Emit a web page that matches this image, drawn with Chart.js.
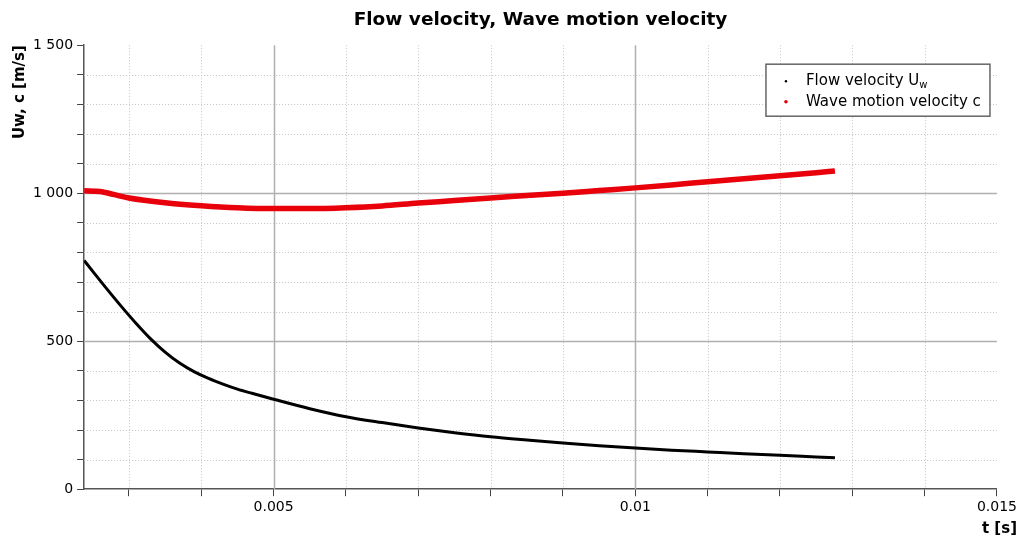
<!DOCTYPE html>
<html>
<head>
<meta charset="utf-8">
<script src="https://cdn.jsdelivr.net/npm/chart.js@4.4.1/dist/chart.umd.min.js"></script>
<style>
  html, body { margin: 0; padding: 0; background: #fff; }
</style>
</head>
<body>
<canvas id="chart" width="1020" height="539"></canvas>
<script>
// time [s] and values [m/s]
const flowTimes = [0.00238, 0.0025, 0.0027, 0.0029, 0.0031, 0.0033, 0.0035, 0.0037, 0.0039, 0.0041, 0.0043,
    0.0045, 0.0047, 0.005, 0.0055, 0.006, 0.0065, 0.007, 0.0075, 0.008, 0.0085, 0.009, 0.0095, 0.01,
    0.0105, 0.011, 0.0115, 0.012, 0.0125, 0.01276];
const flowValues = [773, 736, 675, 616, 560, 508, 463, 426, 397, 374, 355,
    338, 324, 304, 272, 245, 225, 207, 191, 177, 166, 156, 147, 139,
    132, 126, 120, 115, 109, 106];

const waveTimes = [0.00238, 0.0026, 0.0028, 0.003, 0.0035, 0.004, 0.0045, 0.005, 0.0055, 0.006, 0.0065, 0.007,
    0.0075, 0.008, 0.0085, 0.009, 0.0095, 0.01, 0.0105, 0.011, 0.0115, 0.012, 0.0125, 0.01276];
const waveValues = [1008, 1006, 995, 984, 968, 958, 951, 948, 948, 951, 957, 967,
    975, 984, 992, 1000, 1009, 1018, 1028, 1039, 1049, 1059, 1069, 1075];

const seriesNames = ['Flow velocity U', 'Wave motion velocity c'];
const seriesSubscripts = ['w', ''];
const seriesColors = ['#000000', '#e8000b'];

const xMin = 0.00238, xMax = 0.015, xMinor = 0.001, xMajor = 0.005;
const yMin = 0, yMax = 1500, yMinor = 100, yMajor = 500;
const xTitle = 't [s]';

const FONT = '"DejaVu Sans", Verdana, sans-serif';

function isMajor(v, step) {
    return Math.abs(v / step - Math.round(v / step)) < 1e-6;
}

function spaced(v) {
    return String(Math.round(v)).replace(/\B(?=(\d{3})+(?!\d))/g, ' ');
}

function toPoints(xs, ys) {
    return xs.map((x, i) => ({ x: x, y: ys[i] }));
}

// solid major / dotted minor grid lines, drawn from the scale ticks
const gridPlugin = {
    id: 'mixedGrid',
    beforeDatasetsDraw(chart) {
        const { ctx, chartArea, scales } = chart;
        ctx.save();
        scales.x.ticks.forEach(t => {
            const px = Math.round(scales.x.getPixelForValue(t.value)) + 0.5;
            if (px <= chartArea.left + 2 || px >= chartArea.right - 2) return;
            const major = isMajor(t.value, xMajor);
            ctx.strokeStyle = major ? '#b0b0b0' : '#c4c4c4';
            ctx.lineWidth = major ? 1.5 : 1;
            ctx.setLineDash(major ? [] : [1, 2]);
            ctx.beginPath();
            ctx.moveTo(px, chartArea.top);
            ctx.lineTo(px, chartArea.bottom);
            ctx.stroke();
        });
        scales.y.ticks.forEach(t => {
            const py = Math.round(scales.y.getPixelForValue(t.value)) + 0.5;
            if (py <= chartArea.top + 2 || py >= chartArea.bottom - 2) return;
            const major = isMajor(t.value, yMajor);
            ctx.strokeStyle = major ? '#b0b0b0' : '#c4c4c4';
            ctx.lineWidth = major ? 1.5 : 1;
            ctx.setLineDash(major ? [] : [1, 2]);
            ctx.beginPath();
            ctx.moveTo(chartArea.left, py);
            ctx.lineTo(chartArea.right, py);
            ctx.stroke();
        });
        ctx.restore();
    }
};

// boxed legend with a subscript in the first entry, plus the x title at the far right
const legendPlugin = {
    id: 'boxLegend',
    afterDatasetsDraw(chart) {
        const { ctx, chartArea } = chart;
        const w = 224, h = 52;
        const left = chartArea.right - 7 - w;
        const top = chartArea.top + 19;
        ctx.save();
        ctx.fillStyle = '#ffffff';
        ctx.fillRect(left, top, w, h);
        ctx.strokeStyle = '#666666';
        ctx.lineWidth = 1.5;
        ctx.strokeRect(left, top, w, h);
        ctx.textBaseline = 'middle';
        seriesNames.forEach((name, i) => {
            const cy = top + 17 + i * 20.5;
            ctx.fillStyle = seriesColors[i];
            ctx.beginPath();
            ctx.arc(left + 20, cy, i === 0 ? 1.2 : 1.8, 0, Math.PI * 2);
            ctx.fill();
            ctx.fillStyle = '#000000';
            ctx.font = '15px ' + FONT;
            ctx.fillText(name, left + 40, cy);
            if (seriesSubscripts[i]) {
                const tw = ctx.measureText(name).width;
                ctx.font = '10px ' + FONT;
                ctx.fillText(seriesSubscripts[i], left + 40 + tw, cy + 4);
            }
        });
        ctx.restore();
    },
    afterDraw(chart) {
        const { ctx, scales } = chart;
        ctx.save();
        ctx.font = 'bold 15px ' + FONT;
        ctx.fillStyle = '#000';
        ctx.textAlign = 'right';
        ctx.textBaseline = 'bottom';
        ctx.fillText(xTitle, chart.width - 3, scales.x.bottom);
        ctx.restore();
    }
};

new Chart(document.getElementById('chart'), {
    type: 'line',
    data: {
        datasets: [{
            label: seriesNames[0] + seriesSubscripts[0],
            data: toPoints(flowTimes, flowValues),
            borderColor: seriesColors[0],
            backgroundColor: seriesColors[0],
            borderWidth: 3,
            pointRadius: 0,
            cubicInterpolationMode: 'monotone'
        }, {
            label: seriesNames[1],
            data: toPoints(waveTimes, waveValues),
            borderColor: seriesColors[1],
            backgroundColor: seriesColors[1],
            borderWidth: 5.5,
            pointRadius: 0,
            cubicInterpolationMode: 'monotone'
        }]
    },
    options: {
        responsive: false,
        animation: false,
        devicePixelRatio: 1,
        layout: { padding: { left: 7, right: 0, top: 0, bottom: 2 } },
        plugins: {
            legend: { display: false },
            tooltip: { enabled: false },
            title: {
                display: true,
                text: 'Flow velocity, Wave motion velocity',
                fullSize: false,
                color: '#000',
                font: { family: FONT, size: 18.5, weight: 'bold' },
                padding: { top: 9, bottom: 14 }
            }
        },
        scales: {
            x: {
                type: 'linear',
                min: xMin,
                max: xMax,
                grid: { drawOnChartArea: false, drawTicks: true, tickLength: 7, tickColor: '#444' },
                border: { color: '#555', width: 1.5 },
                ticks: {
                    stepSize: xMinor,
                    includeBounds: false,
                    autoSkip: false,
                    maxRotation: 0,
                    padding: 3,
                    color: '#000',
                    font: { family: FONT, size: 14 },
                    callback: v => isMajor(v, xMajor) ? String(Math.round(v * 1000) / 1000) : ''
                },
                title: {
                    display: true,
                    text: xTitle,
                    color: 'rgba(0,0,0,0)',
                    font: { family: FONT, size: 15, weight: 'bold' },
                    padding: { top: 0, bottom: 0 }
                }
            },
            y: {
                type: 'linear',
                min: yMin,
                max: yMax,
                grid: { drawOnChartArea: false, drawTicks: true, tickLength: 7, tickColor: '#444' },
                border: { color: '#555', width: 1.5 },
                ticks: {
                    stepSize: yMinor,
                    autoSkip: false,
                    padding: 4,
                    color: '#000',
                    font: { family: FONT, size: 14 },
                    callback: v => isMajor(v, yMajor) ? spaced(v) : ''
                },
                title: {
                    display: true,
                    text: 'Uw, c [m/s]',
                    align: 'end',
                    color: '#000',
                    font: { family: FONT, size: 15, weight: 'bold' },
                    padding: { top: 4, bottom: 0 }
                }
            }
        }
    },
    plugins: [gridPlugin, legendPlugin]
});
</script>
</body>
</html>
